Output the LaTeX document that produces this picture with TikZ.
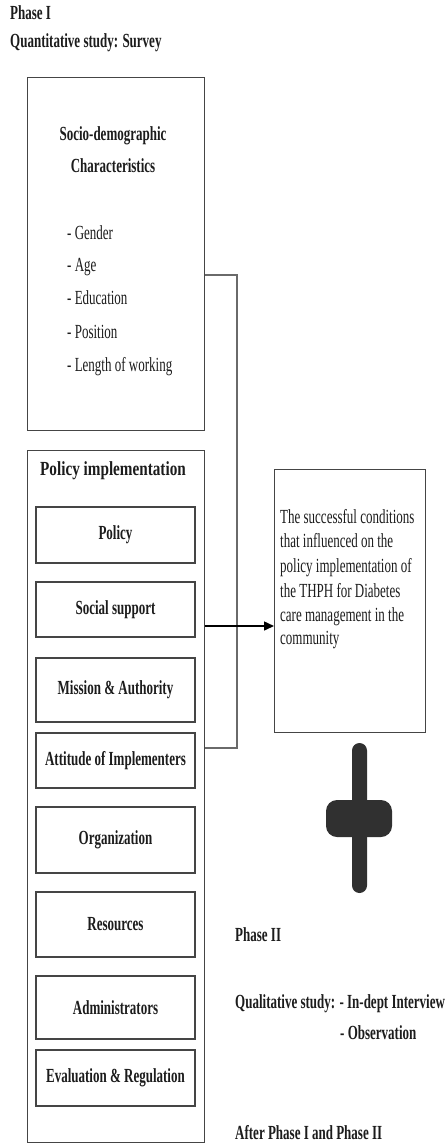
\documentclass[tikz,border=0pt]{standalone}
\usepackage{fontspec}
\setmainfont{Liberation Serif}[FakeStretch=0.65]
\newfontfamily\widebold{Liberation Serif}[FakeStretch=0.76]
\usetikzlibrary{arrows.meta}
\definecolor{ink}{HTML}{1C1C1C}
\definecolor{frame}{HTML}{454545}
\definecolor{plusgray}{HTML}{303030}

\begin{document}
\begin{tikzpicture}[x=1pt,y=-1pt,
  frm/.style={draw=frame, line width=1.3pt, inner sep=0pt},
  ibox/.style={frm, minimum width=159pt, font=\fontsize{20}{24}\selectfont\bfseries, text=ink},
  head/.style={font=\fontsize{20}{24}\selectfont\bfseries, text=ink, inner sep=0pt, anchor=base west},
  ctitle/.style={font=\fontsize{20}{24}\selectfont\bfseries, text=ink, inner sep=0pt, anchor=base},
  item/.style={font=\fontsize{20}{24}\selectfont, text=ink, inner sep=0pt, anchor=base west},
  conn/.style={draw=frame!80, line width=1.3pt},
  arr/.style={draw=black, line width=1.5pt, -{Triangle[length=10pt, width=9pt]}},
]
\useasboundingbox (0,0) rectangle (446,1146);

% phase I heading
\node[head] (ph1) at (10,19) {Phase I};
\node[head] (qs) at (10,47) {Quantitative study: Survey};

% socio-demographic block
\node[frm, minimum width=177pt, minimum height=353pt, anchor=north west] (socio) at (27,77) {};
\node[ctitle] (st1) at (113,140) {Socio-demographic};
\node[ctitle] (st2) at (113,172) {Characteristics};
\node[item] (i1) at (67,239) {- Gender};
\node[item] (i2) at (67,271) {- Age};
\node[item] (i3) at (67,304) {- Education};
\node[item] (i4) at (67,338) {- Position};
\node[item] (i5) at (67,371) {- Length of working};

% policy implementation block
\node[frm, minimum width=177pt, minimum height=692pt, anchor=north west] (pimpl) at (27,450) {};
\node[ctitle, font=\fontsize{20}{24}\widebold\bfseries] (pt) at (113,475) {Policy implementation};
\node[ibox, minimum height=56pt] (b1) at (115.5,535) {Policy};
\node[ibox, minimum height=55pt] (b2) at (115.5,609.5) {Social support};
\node[ibox, minimum height=64pt] (b3) at (115.5,690) {Mission \& Authority};
\node[ibox, minimum height=55pt] (b4) at (115.5,760.5) {Attitude of Implementers};
\node[ibox, minimum height=66pt] (b5) at (115.5,840) {Organization};
\node[ibox, minimum height=65pt] (b6) at (115.5,924.5) {Resources};
\node[ibox, minimum height=63pt] (b7) at (115.5,1007.5) {Administrators};
\node[ibox, minimum height=56pt] (b8) at (115.5,1078) {Evaluation \& Regulation};

% outcome block
\node[frm, minimum width=151pt, minimum height=263pt, anchor=north west] (concl) at (274,469) {};
\node[item] (c1) at (280,523) {The successful conditions};
\node[item] (c2) at (280,547) {that influenced on the};
\node[item] (c3) at (280,572) {policy implementation of};
\node[item] (c4) at (280,597) {the THPH for Diabetes};
\node[item] (c5) at (280,621) {care management in the};
\node[item] (c6) at (280,644) {community};

% bracket joining both blocks, and arrow to the outcome
\coordinate (bt) at (237,275);
\coordinate (bb) at (237,748);
\draw[conn] (bt -| socio.east) -- (bt) -- (bb) -- (bb -| pimpl.east);
\coordinate (ay) at (250,626);
\draw[arr] (ay -| pimpl.east) -- (ay -| concl.west);

% plus sign
\fill[plusgray, rounded corners=7.5pt] (352,743) rectangle (367,893);
\fill[plusgray, rounded corners=11pt] (326,800) rectangle (392,837);

% phase II notes
\node[head] (ph2) at (235,941) {Phase II};
\node[head] (ql) at (235,1008) {Qualitative study: - In-dept Interview};
\node[head] (ob) at (340,1039) {- Observation};
\node[head] (af) at (235,1139) {After Phase I and Phase II};
\end{tikzpicture}
\end{document}
